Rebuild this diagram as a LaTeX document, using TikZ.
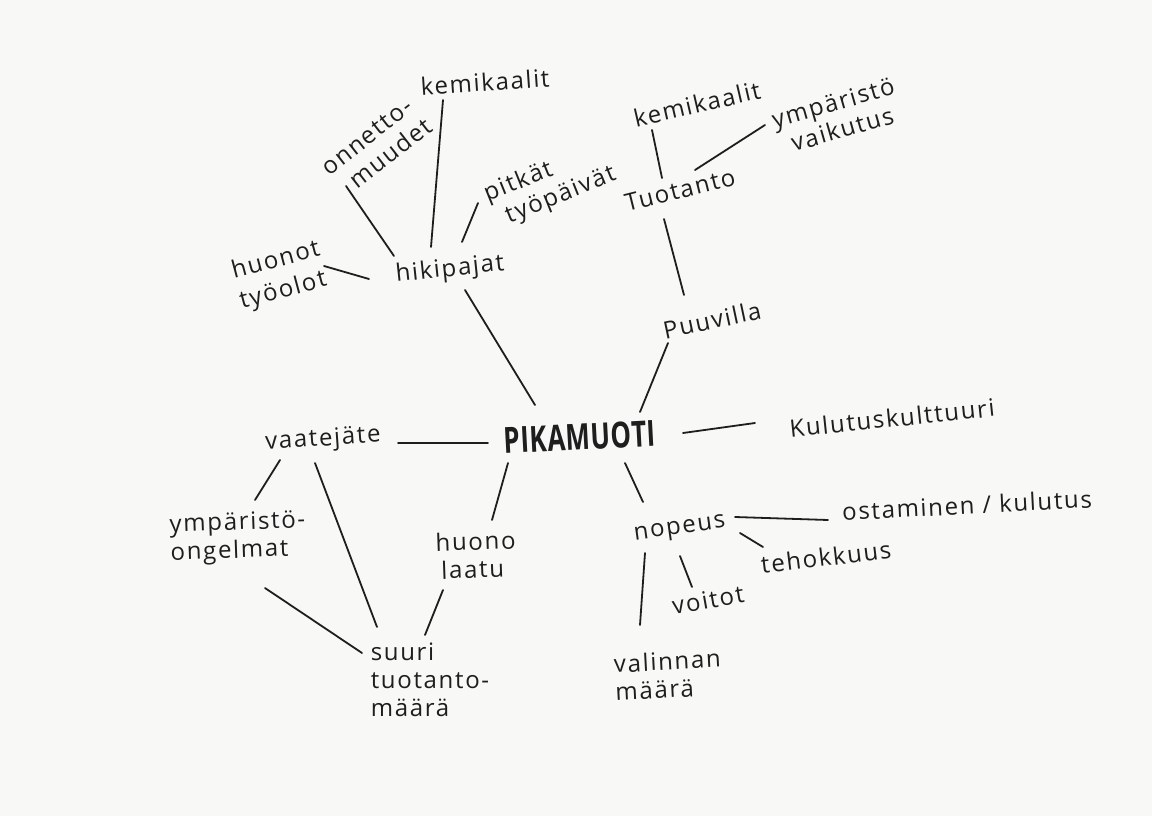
\documentclass[tikz,border=0pt]{standalone}
\usepackage{fontspec}
\setmainfont{Open Sans}[LetterSpace=7]
\newfontfamily\pikafont{Open Sans}[LetterSpace=2]
\usetikzlibrary{calc}
\definecolor{paper}{RGB}{248,248,246}
\definecolor{ink}{RGB}{30,30,30}
\begin{document}
\begin{tikzpicture}[x=1pt,y=-1pt,
  lbl/.style={font=\fontsize{24}{28}\selectfont, text=ink, inner sep=0pt, align=left},
  conn/.style={draw=ink, line width=1.8pt, line cap=round}]
\fill[paper] (0,0) rectangle (1152,816);
\useasboundingbox (0,0) rectangle (1152,816);
% nodes
\node[lbl, rotate=4]  (kemL)  at (485,82)  {kemikaalit};
\node[lbl, rotate=38] (onn)   at (377,147) {onnetto-\\\hspace*{0.6em}muudet};
\node[lbl, rotate=22] (pitk)  at (550,185) {pitkät\\\hspace*{0.5em}työpäivät};
\node[lbl, rotate=15, font=\fontsize{24}{31}\selectfont] (huot)  at (280,276) {huonot\\työolot};
\node[lbl, rotate=6]  (hiki)  at (450,270) {hikipajat};
\node[lbl, rotate=13] (kemR)  at (697,104) {kemikaalit};
\node[lbl, rotate=14] (tuot)  at (680,190) {Tuotanto};
\node[lbl, rotate=16] (ymp)   at (837,116) {ympäristö\\\hspace*{0.5em}vaikutus};
\node[lbl, rotate=12] (puuv)  at (712,320) {Puuvilla};
\node[lbl, rotate=3, font=\pikafont\bfseries\fontsize{36}{40}\selectfont] (pika) at (580,437) {\scalebox{0.72}[1]{PIKAMUOTI}};
\node[lbl, rotate=6]  (kult)  at (892,418) {Kulutuskulttuuri};
\node[lbl, rotate=4]  (vaate) at (323,440) {vaatejäte};
\node[lbl, rotate=2]  (ympo)  at (238,538) {ympäristö-\\ongelmat};
\node[lbl, rotate=2]  (huono) at (476,555) {huono\\\hspace*{0.2em}laatu};
\node[lbl]            (suuri) at (430,680) {suuri\\tuotanto-\\määrä};
\node[lbl, rotate=8]  (nop)   at (680,530) {nopeus};
\node[lbl, rotate=3]  (ost)   at (967,505) {ostaminen / kulutus};
\node[lbl, rotate=7]  (teh)   at (826,557) {tehokkuus};
\node[lbl, rotate=10] (voi)   at (708,600) {voitot};
\node[lbl, rotate=3]  (val)   at (668,675) {valinnan\\määrä};
% connectors
\draw[conn] ($(kemL)+(-42,18)$)  -- ($(hiki)+(-19,-23)$);
\draw[conn] ($(onn)+(-31,39)$)   -- ($(hiki)+(-56,-14)$);
\draw[conn] ($(pitk)+(-72,18)$)  -- ($(hiki)+(12,-28)$);
\draw[conn] ($(huot)+(44,-10)$)  -- ($(hiki)+(-81,9)$);
\draw[conn] ($(hiki)+(15,20)$)   -- ($(pika)+(-45,-32)$);
\draw[conn] ($(kemR)+(-45,26)$)  -- ($(tuot)+(-18,-12)$);
\draw[conn] ($(tuot)+(15,-20)$)  -- ($(ymp)+(-72,9)$);
\draw[conn] ($(tuot)+(-16,29)$)  -- ($(puuv)+(-28,-25)$);
\draw[conn] ($(puuv)+(-44,23)$)  -- ($(pika)+(60,-25)$);
\draw[conn] ($(pika)+(103,-4)$)  -- ($(kult)+(-137,5)$);
\draw[conn] ($(vaate)+(75,3)$)   -- ($(pika)+(-92,6)$);
\draw[conn] ($(pika)+(-72,26)$)  -- ($(huono)+(16,-35)$);
\draw[conn] ($(pika)+(45,26)$)   -- ($(nop)+(-37,-28)$);
\draw[conn] ($(vaate)+(-43,20)$) -- ($(ympo)+(17,-38)$);
\draw[conn] ($(vaate)+(-8,23)$)  -- ($(suuri)+(-53,-53)$);
\draw[conn] ($(ympo)+(27,50)$)   -- ($(suuri)+(-68,-27)$);
\draw[conn] ($(huono)+(-33,35)$) -- ($(suuri)+(-5,-45)$);
\draw[conn] ($(nop)+(55,-13)$)   -- ($(ost)+(-139,15)$);
\draw[conn] ($(nop)+(60,3)$)     -- ($(teh)+(-63,-10)$);
\draw[conn] ($(nop)+(0,26)$)     -- ($(voi)+(-16,-13)$);
\draw[conn] ($(nop)+(-35,23)$)   -- ($(val)+(-28,-50)$);
\end{tikzpicture}
\end{document}
